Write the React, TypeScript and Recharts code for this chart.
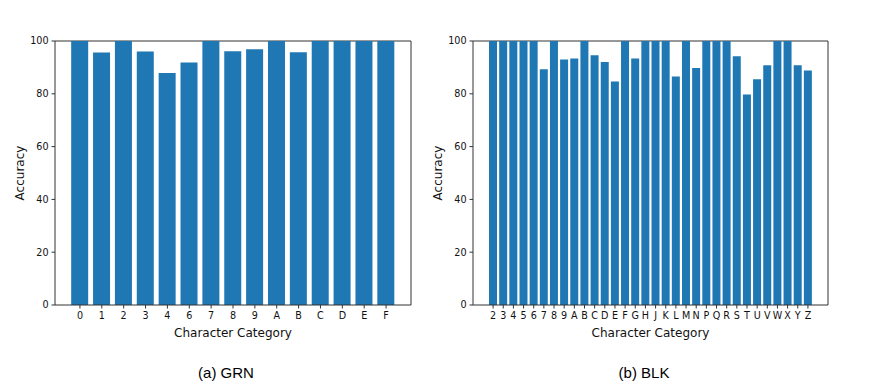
import { BarChart, Bar, XAxis, YAxis, Label, CartesianGrid } from "recharts";

const grnCategories = ["0", "1", "2", "3", "4", "6", "7", "8", "9", "A", "B", "C", "D", "E", "F"];
const grnAccuracy = [100, 95.6, 100, 96, 87.9, 91.9, 100, 96.1, 96.9, 100, 95.7, 100, 100, 100, 100];

const blkCategories = [
  "2", "3", "4", "5", "6", "7", "8", "9", "A", "B", "C", "D", "E", "F", "G", "H",
  "J", "K", "L", "M", "N", "P", "Q", "R", "S", "T", "U", "V", "W", "X", "Y", "Z",
];
const blkAccuracy = [
  100, 100, 100, 100, 100, 89.3, 100, 93.0, 93.4, 100, 94.6, 92.0, 84.7, 100, 93.4, 100,
  100, 100, 86.6, 100, 89.8, 100, 100, 100, 94.2, 79.7, 85.5, 90.8, 100, 100, 90.8, 88.8,
];

const yTicks = [0, 20, 40, 60, 80, 100];

const FONT = "DejaVu Sans";
const INK = "#111";
const SPINE = "#333";
const BLUE = "#1f77b4";

type PanelProps = {
  categories: string[];
  values: number[];
  yAxisWidth: number;
  rightMargin: number;
  xPad: number;
  labelOffset: number;
};

function AccuracyPanel({ categories, values, yAxisWidth, rightMargin, xPad, labelOffset }: PanelProps) {
  const data = categories.map((c, i) => ({ name: c, acc: values[i] }));
  const tickStyle = { fontSize: 9.6, fontFamily: FONT, fill: INK };
  return (
    <BarChart
      width={420}
      height={345}
      data={data}
      margin={{ top: 41, right: rightMargin, bottom: 0, left: 0 }}
      barCategoryGap="10%"
    >
      {/* top + right spines (matplotlib frame) */}
      <CartesianGrid
        stroke={SPINE}
        horizontalCoordinatesGenerator={({ offset }: any) => [offset.top]}
        verticalCoordinatesGenerator={({ offset }: any) => [offset.left + offset.width]}
      />
      <XAxis
        dataKey="name"
        type="category"
        interval={0}
        height={40}
        padding={{ left: xPad, right: xPad }}
        tick={tickStyle}
        tickSize={3.5}
        tickMargin={3.3}
        stroke={SPINE}
        tickLine={{ stroke: SPINE }}
      >
        <Label
          value="Character Category"
          position="insideBottom"
          offset={8.5}
          style={{ fontSize: 12, fontFamily: FONT, fill: INK }}
        />
      </XAxis>
      <YAxis
        domain={[0, 100]}
        ticks={yTicks}
        width={yAxisWidth}
        tick={tickStyle}
        tickSize={3.5}
        tickMargin={3}
        stroke={SPINE}
        tickLine={{ stroke: SPINE }}
      >
        <Label
          value="Accuracy"
          angle={-90}
          position="insideLeft"
          offset={labelOffset}
          style={{ fontSize: 12, fontFamily: FONT, fill: INK, textAnchor: "middle" }}
        />
      </YAxis>
      <Bar dataKey="acc" fill={BLUE} isAnimationActive={false} />
    </BarChart>
  );
}

const captionStyle = {
  position: "absolute" as const,
  top: 364.5,
  width: 200,
  textAlign: "center" as const,
  fontFamily: "Liberation Sans, Arial, sans-serif",
  fontSize: 15,
  lineHeight: "15px",
  color: "#000",
};

export default function App() {
  return (
    <div
      style={{
        position: "absolute",
        left: 0,
        top: 0,
        width: 875,
        height: 382,
        background: "#fff",
        overflow: "hidden",
      }}
    >
      <div style={{ position: "absolute", left: 0, top: 0 }}>
        <AccuracyPanel
          categories={grnCategories}
          values={grnAccuracy}
          yAxisWidth={55}
          rightMargin={9}
          xPad={14}
          labelOffset={20}
        />
      </div>
      <div style={{ position: "absolute", left: 420, top: 0 }}>
        <AccuracyPanel
          categories={blkCategories}
          values={blkAccuracy}
          yAxisWidth={53}
          rightMargin={12}
          xPad={15}
          labelOffset={18}
        />
      </div>
      <div style={{ ...captionStyle, left: 226 - 100 }}>(a) GRN</div>
      <div style={{ ...captionStyle, left: 644 - 100 }}>(b) BLK</div>
    </div>
  );
}
